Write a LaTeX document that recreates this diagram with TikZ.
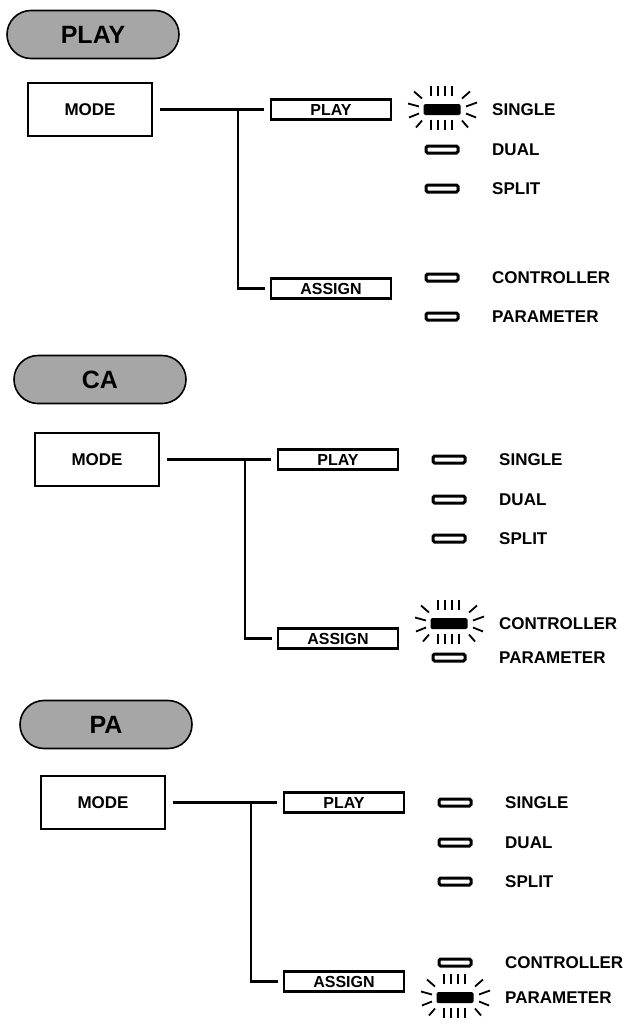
\documentclass[tikz,border=0pt]{standalone}
\usepackage{fontspec}
\setmainfont{Liberation Sans}
\usetikzlibrary{positioning}
\tikzset{
  title/.style={draw,line width=1.6pt,fill=black!35,rounded corners=24pt,minimum width=172pt,minimum height=48pt,inner sep=0pt,font=\fontsize{25}{28}\selectfont\bfseries},
  modebox/.style={draw,line width=2.2pt,minimum width=124pt,minimum height=53pt,font=\fontsize{17}{20}\selectfont\bfseries},
  keybox/.style={draw,line width=2.2pt,minimum width=120pt,minimum height=20pt,inner sep=0pt,font=\fontsize{16}{18}\selectfont\bfseries},
  led/.style={draw,line width=3pt,rounded corners=1.5pt,minimum width=32pt,minimum height=7pt,inner sep=0pt},
  ledon/.style={fill=black,rounded corners=1.5pt,minimum width=37pt,minimum height=11pt,inner sep=0pt},
  lbl/.style={anchor=west,inner sep=0pt,font=\fontsize{17}{20}\selectfont\bfseries},
  wire/.style={line width=2.2pt},
  ray/.style={line width=1.8pt}
}
\begin{document}
\begin{tikzpicture}[x=1pt,y=-1pt]
\useasboundingbox (0,0) rectangle (630,1028);
\foreach \ttl/\mx/\my/\ty/\lit/\cy/\py in {PLAY/90/109.5/-75/1/168/207, CA/97/459.5/-80/4/164/198, PA/103/802.5/-78/5/160/195}{
\begin{scope}[shift={(\mx,\my)}]
\node[title] (ttl) at (3,\ty) {\ttl};
\node[modebox] (mode) at (0,0) {MODE};
\node[keybox] (play) at (241,0) {PLAY};
\node[keybox] (assign) at (241,179) {ASSIGN};
\coordinate (jn) at (148,0);
\draw[wire,shorten <=7pt,shorten >=6pt] (mode.east) -- (play.west);
\draw[wire,shorten >=5pt] (jn) |- (assign.west);
% panel lamps
\foreach \i/\y in {1/0,2/40,3/79,4/\cy,5/\py}{
  \ifnum\i=\lit \node[ledon] (l\i) at (352,\y) {}; \else \node[led] (l\i) at (352,\y) {}; \fi
}
\foreach \i/\s in {1/SINGLE,2/DUAL,3/SPLIT,4/CONTROLLER,5/PARAMETER}
  \node[lbl] (txt\i) at ([xshift=50pt]l\i.center) {\s};
% the lit one
\foreach \ax/\ay/\bx/\by in {-11/-14/-11/-24, -4/-14/-4/-24, 3/-14/3/-24, 10/-14/10/-24,
  -11/10/-11/20, -4/10/-4/20, 3/10/3/20, 10/10/10/20,
  -20/-11/-28/-18, 20/-11/28/-18, -20/11/-26/18, 20/11/26/18,
  -23/-3/-34/-6, -23/4/-33/8, 24/-3/35/-7, 24/4/34/8}
  \draw[ray] ([shift={(\ax,\ay)}]l\lit.center) -- ([shift={(\bx,\by)}]l\lit.center);
\end{scope}
}
\end{tikzpicture}
\end{document}
